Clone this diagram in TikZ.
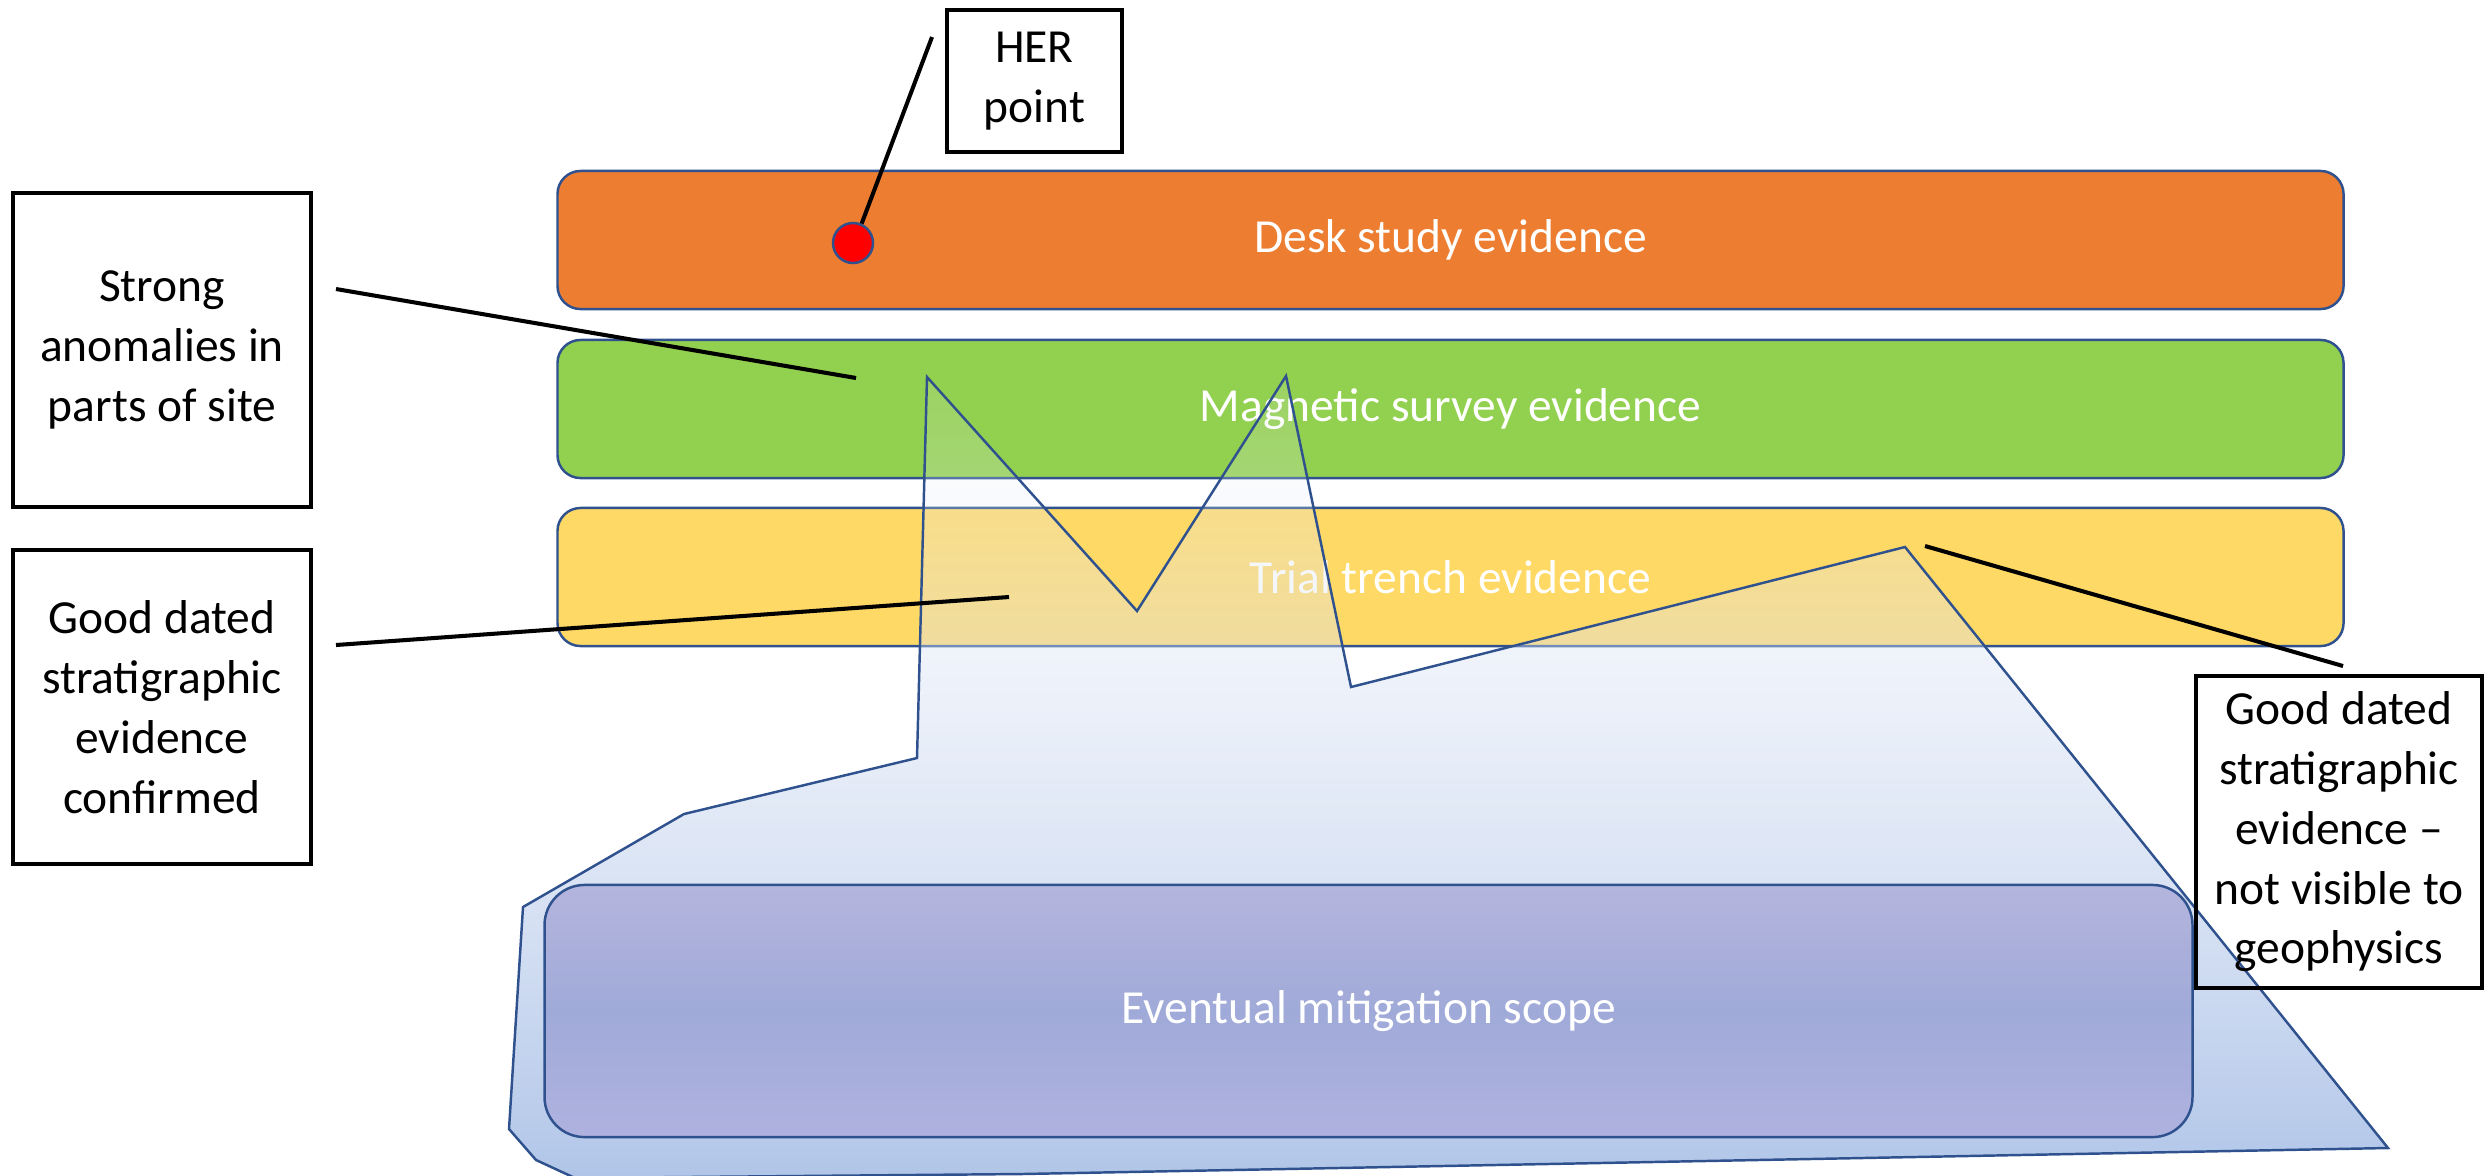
\documentclass[tikz,border=0pt]{standalone}
\usepackage{fontspec}
\setmainfont{Carlito}
\usetikzlibrary{fadings}

\definecolor{deskorange}{RGB}{237,125,49}
\definecolor{maggreen}{RGB}{146,208,80}
\definecolor{trialyellow}{RGB}{255,217,102}
\definecolor{edgeblue}{RGB}{47,82,143}
\definecolor{zonetop}{RGB}{238,241,250}
\definecolor{zonebottom}{RGB}{176,197,232}
\definecolor{scopetop}{RGB}{180,181,221}
\definecolor{scopemid}{RGB}{160,170,216}
\definecolor{scopebottom}{RGB}{175,178,223}

% the excavation zone gets more opaque towards the bottom
\tikzfading[name=zonefade, top color=transparent!90, bottom color=transparent!0]

\begin{document}
\begin{tikzpicture}[x=0.01cm, y=-0.01cm,
  txt/.style={font=\fontsize{13.5pt}{17pt}\selectfont},
  band/.style={txt, draw=edgeblue, line width=0.7pt, rounded corners=0.23cm,
    minimum width=17.85cm, minimum height=1.38cm, text=white, inner sep=0pt},
  note/.style={txt, draw=black, line width=1.1pt, align=center, inner sep=0pt},
  leader/.style={draw=black, line width=1.15pt},
  zone/.style={draw=edgeblue, line width=0.7pt, line join=miter}]

\useasboundingbox (0,0) rectangle (2486,1175);

% evidence layers
\node[band, fill=deskorange] (desk) at (1450.5,240) {Desk study evidence};
\node[band, fill=maggreen] (mag) at (1450.5,409) {Magnetic survey evidence};
\node[band, fill=trialyellow] (trial) at (1450.5,577) {Trial trench evidence};

% outline of the area that is finally excavated
\coordinate (z1) at (927,377);
\coordinate (z2) at (1137,611);
\coordinate (z3) at (1286,376);
\coordinate (z4) at (1351,687);
\coordinate (z5) at (1905,547);
\coordinate (z6) at (2388,1148);
\coordinate (z7) at (1022,1174);
\coordinate (z8) at (575,1178);
\coordinate (z9) at (536,1160);
\coordinate (z10) at (509,1129);
\coordinate (z11) at (523,907);
\coordinate (z12) at (684,814);
\coordinate (z13) at (917,758);
\begin{scope}
  \clip (0,0) rectangle (2486,1175);
  \shade[top color=zonetop, bottom color=zonebottom, path fading=zonefade]
    (z1) -- (z2) -- (z3) -- (z4) -- (z5) -- (z6) -- (z7) -- (z8) -- (z9)
    -- (z10) -- (z11) -- (z12) -- (z13) -- cycle;
  \draw[zone]
    (z1) -- (z2) -- (z3) -- (z4) -- (z5) -- (z6) -- (z7) -- (z8) -- (z9)
    -- (z10) -- (z11) -- (z12) -- (z13) -- cycle;
\end{scope}

\node[txt, draw=edgeblue, line width=0.7pt, rounded corners=0.4cm,
  minimum width=16.47cm, minimum height=2.52cm, text=white,
  top color=scopetop, bottom color=scopebottom, middle color=scopemid]
  (scope) at (1368.5,1011) {Eventual mitigation scope};

% HER record marker
\node[circle, draw=edgeblue, fill=red, line width=0.7pt, minimum size=0.4cm,
  inner sep=0pt] (herdot) at (853,243) {};

% callout boxes
\node[note, minimum width=1.75cm, minimum height=1.42cm] (her) at (1034.5,81)
  {HER\\point};
\node[note, minimum width=2.98cm, minimum height=3.14cm] (strong) at (162,350)
  {Strong\\anomalies in\\parts of site};
\node[note, minimum width=2.98cm, minimum height=3.14cm] (gooda) at (162,707)
  {Good dated\\stratigraphic\\evidence\\confirmed};
\node[note, minimum width=2.86cm, minimum height=3.12cm] (goodb) at (2339,832)
  {Good dated\\stratigraphic\\evidence –\\not visible to\\geophysics};

% leader lines
\coordinate (herfoot) at (932,37);
\coordinate (strongfoot) at (336,289);
\coordinate (strongtip) at (856,378);
\coordinate (goodafoot) at (336,645);
\coordinate (goodatip) at (1009,597);
\coordinate (goodbtip) at (1925,546);
\coordinate (goodbfoot) at (2343,666);
\draw[leader] (herfoot) -- (herdot.66);
\draw[leader] (strongfoot) -- (strongtip);
\draw[leader] (goodafoot) -- (goodatip);
\draw[leader] (goodbtip) -- (goodbfoot);
\end{tikzpicture}
\end{document}
